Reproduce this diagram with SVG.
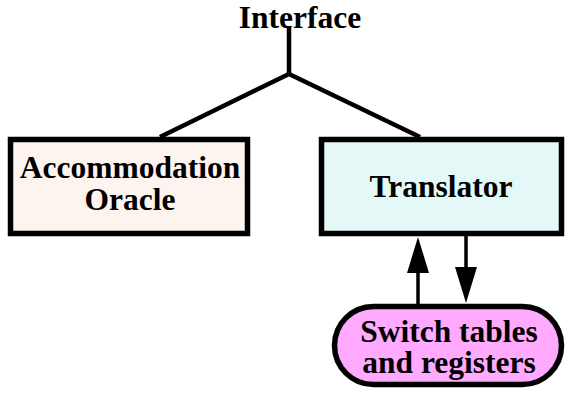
<svg xmlns="http://www.w3.org/2000/svg" width="566" height="398" viewBox="0 0 566 398">
  <style>
    text { font-family: "Liberation Serif", "Times New Roman", serif; font-weight: bold; font-size: 31.5px; fill: #000; text-anchor: middle; }
    .box { stroke: #000; stroke-width: 5.5; }
    .tree { fill: none; stroke: #000; stroke-width: 4.5; stroke-linejoin: miter; }
    .link { fill: none; stroke: #000; stroke-width: 3.5; }
    .head { fill: #000; stroke: none; }
  </style>

  <g id="connectors">
    <!-- interface tree -->
    <polyline class="tree" points="289,27 289,74"/>
    <polyline class="tree" points="160,137 289,74 420,137"/>
    <!-- translator <-> registers -->
    <line class="link" x1="418" y1="304" x2="418" y2="270"/>
    <polygon class="head" points="418,237 407,273 429,273"/>
    <line class="link" x1="466" y1="236" x2="466" y2="270"/>
    <polygon class="head" points="466,303 455,267 477,267"/>
  </g>

  <g id="interface">
    <text x="300" y="28">Interface</text>
  </g>

  <g id="oracle">
    <rect class="box" x="10.5" y="139.5" width="237" height="94" fill="#fdf3ef"/>
    <text x="130" y="178">Accommodation</text>
    <text x="130" y="210">Oracle</text>
  </g>

  <g id="translator">
    <rect class="box" x="321.5" y="139.5" width="240" height="94" fill="#e3f8f7"/>
    <text x="441" y="197">Translator</text>
  </g>

  <g id="registers">
    <rect class="box" x="334.5" y="306.5" width="227" height="78" rx="39" ry="39" fill="#ffaaff"/>
    <text x="449" y="342">Switch tables</text>
    <text x="449" y="373">and registers</text>
  </g>
</svg>
